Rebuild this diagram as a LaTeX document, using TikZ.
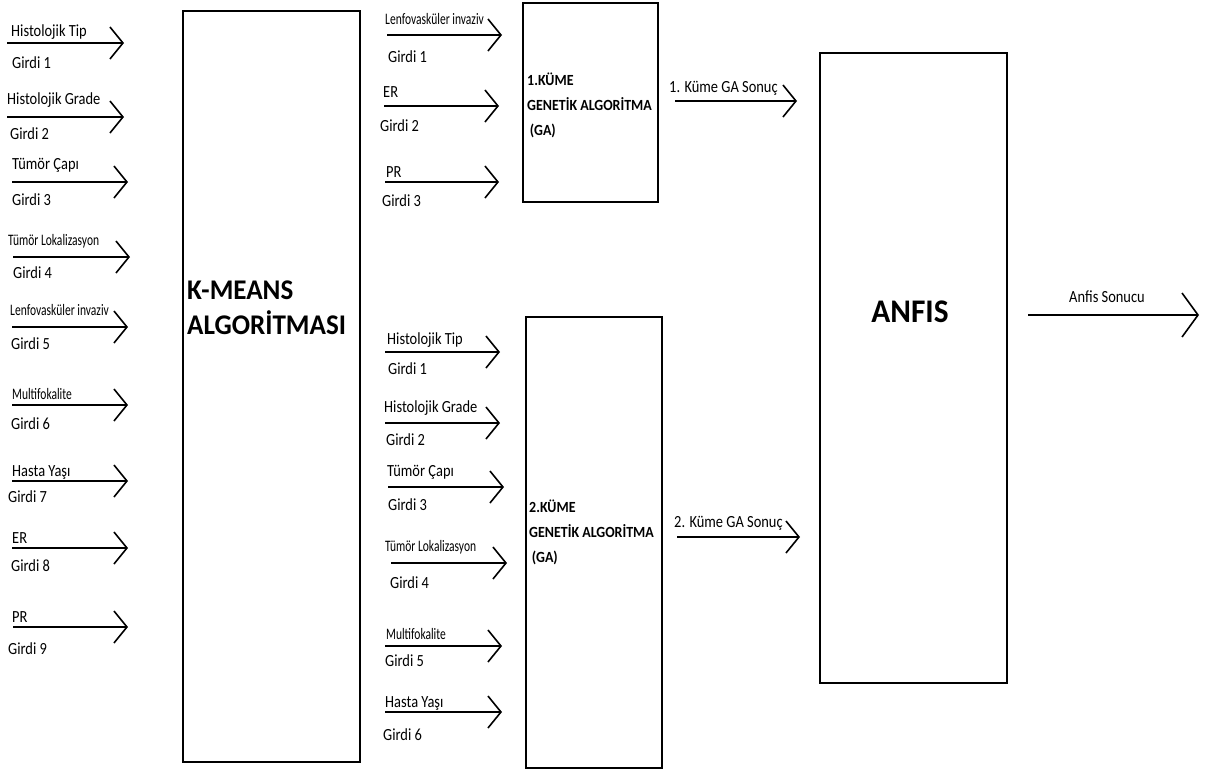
\documentclass[tikz,border=0pt]{standalone}
\usepackage{fontspec}
\setmainfont{Carlito}[FakeStretch=0.85]
\newfontfamily\narrowfont{Carlito}[FakeStretch=0.72]
\newfontfamily\blockfont{Carlito}[FakeStretch=0.9]
\newfontfamily\titlefont{Carlito}[FakeStretch=0.95]
\usetikzlibrary{arrows.meta}
\newcommand\lbl{\fontsize{17}{18}\selectfont}
\newcommand\sml{\narrowfont\fontsize{16}{17}\selectfont}
\newcommand\bigbold{\titlefont\bfseries\fontsize{28.5}{35}\selectfont}
\newcommand\midbold{\blockfont\bfseries\fontsize{15.5}{25}\selectfont}
\tikzset{
  block/.style={draw, line width=1.5pt, inner sep=0pt, outer sep=0pt},
  flow/.style={line width=1.6pt, -{Straight Barb[length=13pt,width=32pt]}},
  txt/.style={anchor=west, inner sep=0pt, font=\lbl},
}
\begin{document}
\begin{tikzpicture}[x=1pt,y=-1pt]
\useasboundingbox (0,0) rectangle (1217,772);

% processing blocks
\node[block, minimum width=177pt, minimum height=751pt] (kmeans) at (271.5,386.5) {};
\node[txt, font=\bigbold, align=left] (kmeanstxt) at (187,308) {K-MEANS\\ALGORİTMASI};

\node[block, minimum width=135pt, minimum height=199pt] (ga1) at (590.5,102.5) {};
\node[txt, font=\midbold, align=left] (ga1txt) at (527,105) {1.KÜME\\GENETİK ALGORİTMA\\\,(GA)};

\node[block, minimum width=136pt, minimum height=451pt] (ga2) at (594,542.5) {};
\node[txt, font=\midbold, align=left] (ga2txt) at (529,532) {2.KÜME\\GENETİK ALGORİTMA\\\,(GA)};

\node[block, minimum width=187pt, minimum height=630pt] (anfis) at (913.5,368) {};
\node[font=\titlefont\bfseries\fontsize{33}{34}\selectfont] (anfistxt) at (910,312) {ANFIS};

% inputs of the k-means block
\foreach \n/\xa/\xb/\yl/\lx/\ly/\lt/\gx/\gy/\gt in {
  a1/7/124/43/11/32/{Histolojik Tip}/12/63/{Girdi 1},
  a2/7/124/117/7/100/{Histolojik Grade}/10/134/{Girdi 2},
  a3/12/128/182/12/165/{Tümör Çapı}/12/200/{Girdi 3},
  a4/13/130/257/8/241/{\sml Tümör Lokalizasyon}/13/273/{Girdi 4},
  a5/12/128/327/10/310/{\sml Lenfovasküler invaziv}/11/344/{Girdi 5},
  a6/12/128/405/12/394/{\sml Multifokalite}/11/424/{Girdi 6},
  a7/12/128/481/12/472/{Hasta Yaşı}/8/497/{Girdi 7},
  a8/12/128/548/12/538/{ER}/11/566/{Girdi 8},
  a9/13/128/627/12/617/{PR}/8/649/{Girdi 9}}{
  \coordinate (\n s) at (\xa,\yl);
  \coordinate (\n e) at (\xb,\yl);
  \draw[flow] (\n s) -- (\n e);
  \node[txt] (\n l) at (\lx,\ly) {\lt};
  \node[txt] (\n g) at (\gx,\gy) {\gt};
}

% inputs of the first cluster
\foreach \n/\xa/\xb/\yl/\lx/\ly/\lt/\gx/\gy/\gt in {
  b1/387/502/35/385/19/{\sml Lenfovasküler invaziv}/388/57/{Girdi 1},
  b2/384/499/106/383/92/{ER}/380/126/{Girdi 2},
  b3/385/499/182/386/172/{PR}/382/201/{Girdi 3}}{
  \coordinate (\n s) at (\xa,\yl);
  \coordinate (\n e) at (\xb,\yl);
  \draw[flow] (\n s) -- (\n e);
  \node[txt] (\n l) at (\lx,\ly) {\lt};
  \node[txt] (\n g) at (\gx,\gy) {\gt};
}

% inputs of the second cluster
\foreach \n/\xa/\xb/\yl/\lx/\ly/\lt/\gx/\gy/\gt in {
  c1/385/500/352/387/340/{Histolojik Tip}/388/369/{Girdi 1},
  c2/385/500/423/384/408/{Histolojik Grade}/386/440/{Girdi 2},
  c3/388/504/487/387/472/{Tümör Çapı}/388/505/{Girdi 3},
  c4/391/507/563/385/547/{\sml Tümör Lokalizasyon}/390/583/{Girdi 4},
  c5/385/502/646/386/634/{\sml Multifokalite}/385/661/{Girdi 5},
  c6/385/502/712/385/703/{Hasta Yaşı}/383/735/{Girdi 6}}{
  \coordinate (\n s) at (\xa,\yl);
  \coordinate (\n e) at (\xb,\yl);
  \draw[flow] (\n s) -- (\n e);
  \node[txt] (\n l) at (\lx,\ly) {\lt};
  \node[txt] (\n g) at (\gx,\gy) {\gt};
}

% cluster results towards ANFIS
\coordinate (r1s) at (675,101);
\coordinate (r1e) at (797,101);
\draw[flow] (r1s) -- (r1e);
\node[txt] (r1l) at (669,88) {1. Küme GA Sonuç};

\coordinate (r2s) at (677,537);
\coordinate (r2e) at (800,537);
\draw[flow] (r2s) -- (r2e);
\node[txt] (r2l) at (674,523) {2. Küme GA Sonuç};

% final output
\coordinate (os) at (1028,315);
\coordinate (oe) at (1199,315);
\draw[flow, -{Straight Barb[length=16pt,width=44pt]}] (os) -- (oe);
\node[txt, anchor=center] (ol) at (1107,297) {Anfis Sonucu};
\end{tikzpicture}
\end{document}
